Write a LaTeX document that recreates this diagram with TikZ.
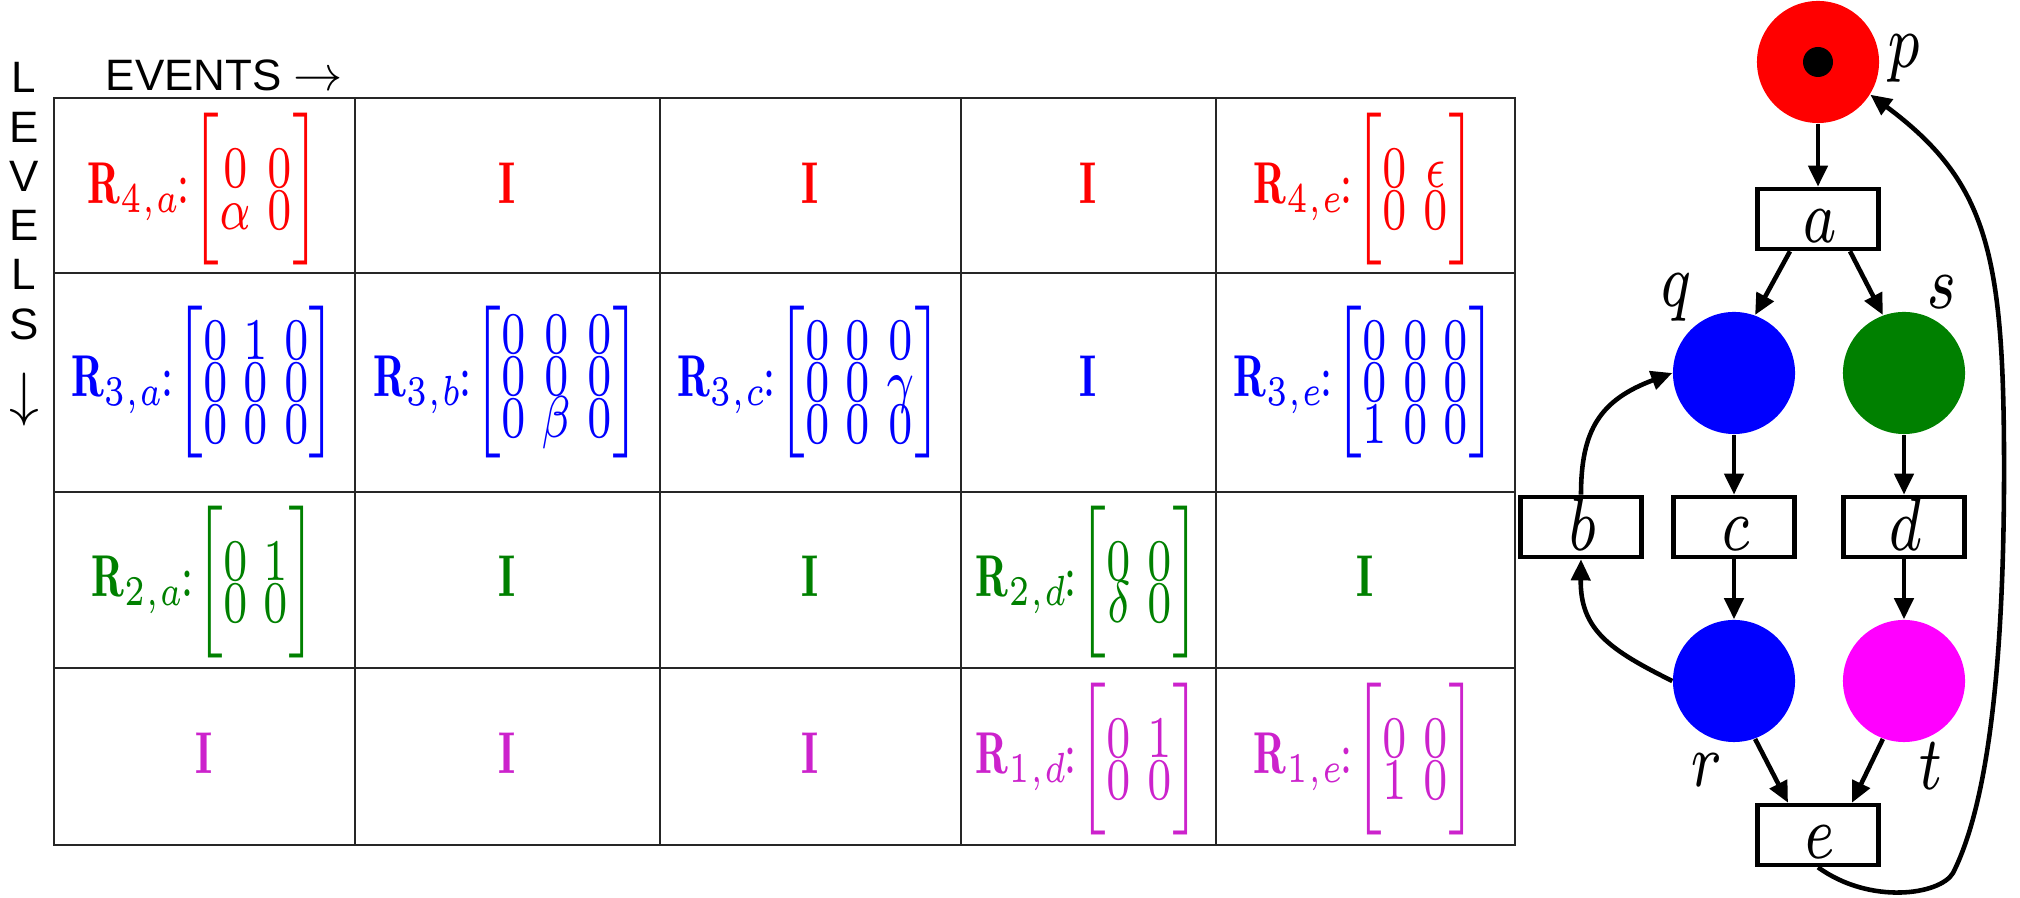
\RequirePackage{fix-cm}
\documentclass[tikz,border=0pt]{standalone}
\usepackage{fontspec}
\usepackage{graphicx}
\usetikzlibrary{arrows.meta}
\newfontfamily\arialf{Liberation Sans}
\definecolor{cR}{RGB}{255,0,0}
\definecolor{cB}{RGB}{0,0,255}
\definecolor{cG}{RGB}{0,128,0}
\definecolor{cM}{RGB}{204,34,204}
\definecolor{cMc}{RGB}{255,0,255}
\delimiterfactor=1000
\delimitershortfall=0pt
\newcommand{\vs}[1]{\scalebox{1.75}[2.4]{#1}}
\newcommand{\vl}[1]{\scalebox{2.3}[3.09]{#1}}
\newcommand{\cln}{\mkern-2mu{:}\mkern-3mu}
\newcommand{\mtx}[2]{\left[\vcenter to #1{\vss\baselineskip=4.98pt\lineskiplimit=-\maxdimen\lineskip=0pt\halign{\hfil$##$\hfil&&\hskip2.6pt\hfil$##$\hfil\cr#2\crcr}\vss}\right]}
\begin{document}
\begin{tikzpicture}[x=0.01cm,y=-0.01cm,
  grid/.style={line width=0.6pt, draw=black!85},
  tcell/.style={anchor=base, inner sep=0pt, font=\fontsize{7}{8}\selectfont},
  place/.style={circle, minimum size=1.22cm, inner sep=0pt, draw=none},
  trans/.style={draw, line width=1.3pt, minimum width=1.21cm, minimum height=0.60cm, inner sep=0pt, text height=13.6pt, text depth=0pt, font=\fontsize{7}{8}\selectfont},
  lbl/.style={inner sep=0pt, font=\fontsize{7}{8}\selectfont},
  arc/.style={line width=1.3pt, -{Triangle[length=6pt,width=5.4pt]}},
  sidetext/.style={inner sep=0pt, font=\arialf\fontsize{12.5}{14}\selectfont}
]
\useasboundingbox (0,0) rectangle (2020,898);

% ---- table grid ----
\draw[grid] (54,98) rectangle (1515,845);
\foreach \yy in {273,492,668} \draw[grid] (54,\yy) -- (1515,\yy);
\foreach \xx in {355,660,961,1216} \draw[grid] (\xx,98) -- (\xx,845);

% ---- side labels ----
\node[sidetext, anchor=base west] (ev) at (105,91) {EVENTS {\fontsize{14}{14}\selectfont$\rightarrow$}};
\node[sidetext, anchor=north, align=center] (lv) at (24,62) {L\\E\\V\\E\\L\\S\\[7.3pt]{\fontsize{17}{17}\selectfont$\downarrow$}};

% ---- row 4 (red) ----
\node[tcell, text=cR] (c41) at (204.5,204) {\vs{$\mathbf{R}_{4,a}\cln\mtx{12.5pt}{0&0\cr\alpha&0}$}};
\node[tcell, text=cR] (c42) at (507.5,204) {\vs{$\mathbf{I}$}};
\node[tcell, text=cR] (c43) at (810.5,204) {\vs{$\mathbf{I}$}};
\node[tcell, text=cR] (c44) at (1088.5,204) {\vs{$\mathbf{I}$}};
\node[tcell, text=cR] (c45) at (1365.5,204) {\vs{$\mathbf{R}_{4,e}\cln\mtx{12.5pt}{0&\epsilon\cr0&0}$}};

% ---- row 3 (blue) ----
\node[tcell, text=cB] (c31) at (204.5,397) {\vs{$\mathbf{R}_{3,a}\cln\mtx{16pt}{0&1&0\cr0&0&0\cr0&0&0}$}};
\node[tcell, text=cB] (c32) at (507.5,397) {\vs{$\mathbf{R}_{3,b}\cln\mtx{16pt}{0&0&0\cr0&0&0\cr0&\beta&0}$}};
\node[tcell, text=cB] (c33) at (810.5,397) {\vs{$\mathbf{R}_{3,c}\cln\mtx{16pt}{0&0&0\cr0&0&\gamma\cr0&0&0}$}};
\node[tcell, text=cB] (c34) at (1088.5,397) {\vs{$\mathbf{I}$}};
\node[tcell, text=cB] (c35) at (1365.5,397) {\vs{$\mathbf{R}_{3,e}\cln\mtx{16pt}{0&0&0\cr0&0&0\cr1&0&0}$}};

% ---- row 2 (green) ----
\node[tcell, text=cG] (c21) at (204.5,597) {\vs{$\mathbf{R}_{2,a}\cln\mtx{12.5pt}{0&1\cr0&0}$}};
\node[tcell, text=cG] (c22) at (507.5,597) {\vs{$\mathbf{I}$}};
\node[tcell, text=cG] (c23) at (810.5,597) {\vs{$\mathbf{I}$}};
\node[tcell, text=cG] (c24) at (1088.5,597) {\vs{$\mathbf{R}_{2,d}\cln\mtx{12.5pt}{0&0\cr\delta&0}$}};
\node[tcell, text=cG] (c25) at (1365.5,597) {\vs{$\mathbf{I}$}};

% ---- row 1 (magenta) ----
\node[tcell, text=cM] (c11) at (204.5,774) {\vs{$\mathbf{I}$}};
\node[tcell, text=cM] (c12) at (507.5,774) {\vs{$\mathbf{I}$}};
\node[tcell, text=cM] (c13) at (810.5,774) {\vs{$\mathbf{I}$}};
\node[tcell, text=cM] (c14) at (1088.5,774) {\vs{$\mathbf{R}_{1,d}\cln\mtx{12.5pt}{0&1\cr0&0}$}};
\node[tcell, text=cM] (c15) at (1365.5,774) {\vs{$\mathbf{R}_{1,e}\cln\mtx{12.5pt}{0&0\cr1&0}$}};

% ---- Petri net ----
\node[place, fill=cR] (p) at (1818,62) {};
\node[circle, fill=black, minimum size=0.30cm, inner sep=0pt] (tok) at (p.center) {};
\node[place, fill=cB] (q) at (1734,373) {};
\node[place, fill=cG] (s) at (1904,373) {};
\node[place, fill=cB] (r) at (1734,681) {};
\node[place, fill=cMc] (t) at (1904,681) {};

\node[trans] (a) at (1818,219) {\kern1pt\vl{$a$}};
\node[trans] (b) at (1581,527) {\kern1pt\vl{$b$}};
\node[trans] (c) at (1734,527) {\kern1pt\vl{$c$}};
\node[trans] (d) at (1904,527) {\kern1pt\vl{$d$}};
\node[trans] (e) at (1818,835) {\kern1pt\vl{$e$}};

\node[lbl] (lp) at (1904,59) {\vl{$p$}};
\node[lbl] (lq) at (1676,298) {\vl{$q$}};
\node[lbl] (ls) at (1942,292) {\vl{$s$}};
\node[lbl] (lr) at (1706,770) {\vl{$r$}};
\node[lbl] (lt) at (1931,766) {\vl{$t$}};

\draw[arc] (p) -- (a);
\draw[arc] ([xshift=-0.28cm]a.south) -- (q.70);
\draw[arc] ([xshift=0.32cm]a.south) -- (s.110);
\draw[arc] (q) -- (c);
\draw[arc] (c) -- (r);
\draw[arc] (s) -- (d);
\draw[arc] (d) -- (t);
\draw[arc] (r.-70) -- ([xshift=-0.30cm]e.north);
\draw[arc] (t.-110) -- ([xshift=0.34cm]e.north);
\draw[arc] (r.west) .. controls (1610,650) and (1580,630) .. (b.south);
\draw[arc] (b.north) .. controls (1581,430) and (1600,400) .. (q.west);
\draw[arc] (e.south) .. controls (1870,905) and (1940,895) .. (1953,873)
  .. controls (1990,800) and (2005,650) .. (2004,450)
  .. controls (2003,250) and (1985,180) .. (p.-32);
\end{tikzpicture}
\end{document}
